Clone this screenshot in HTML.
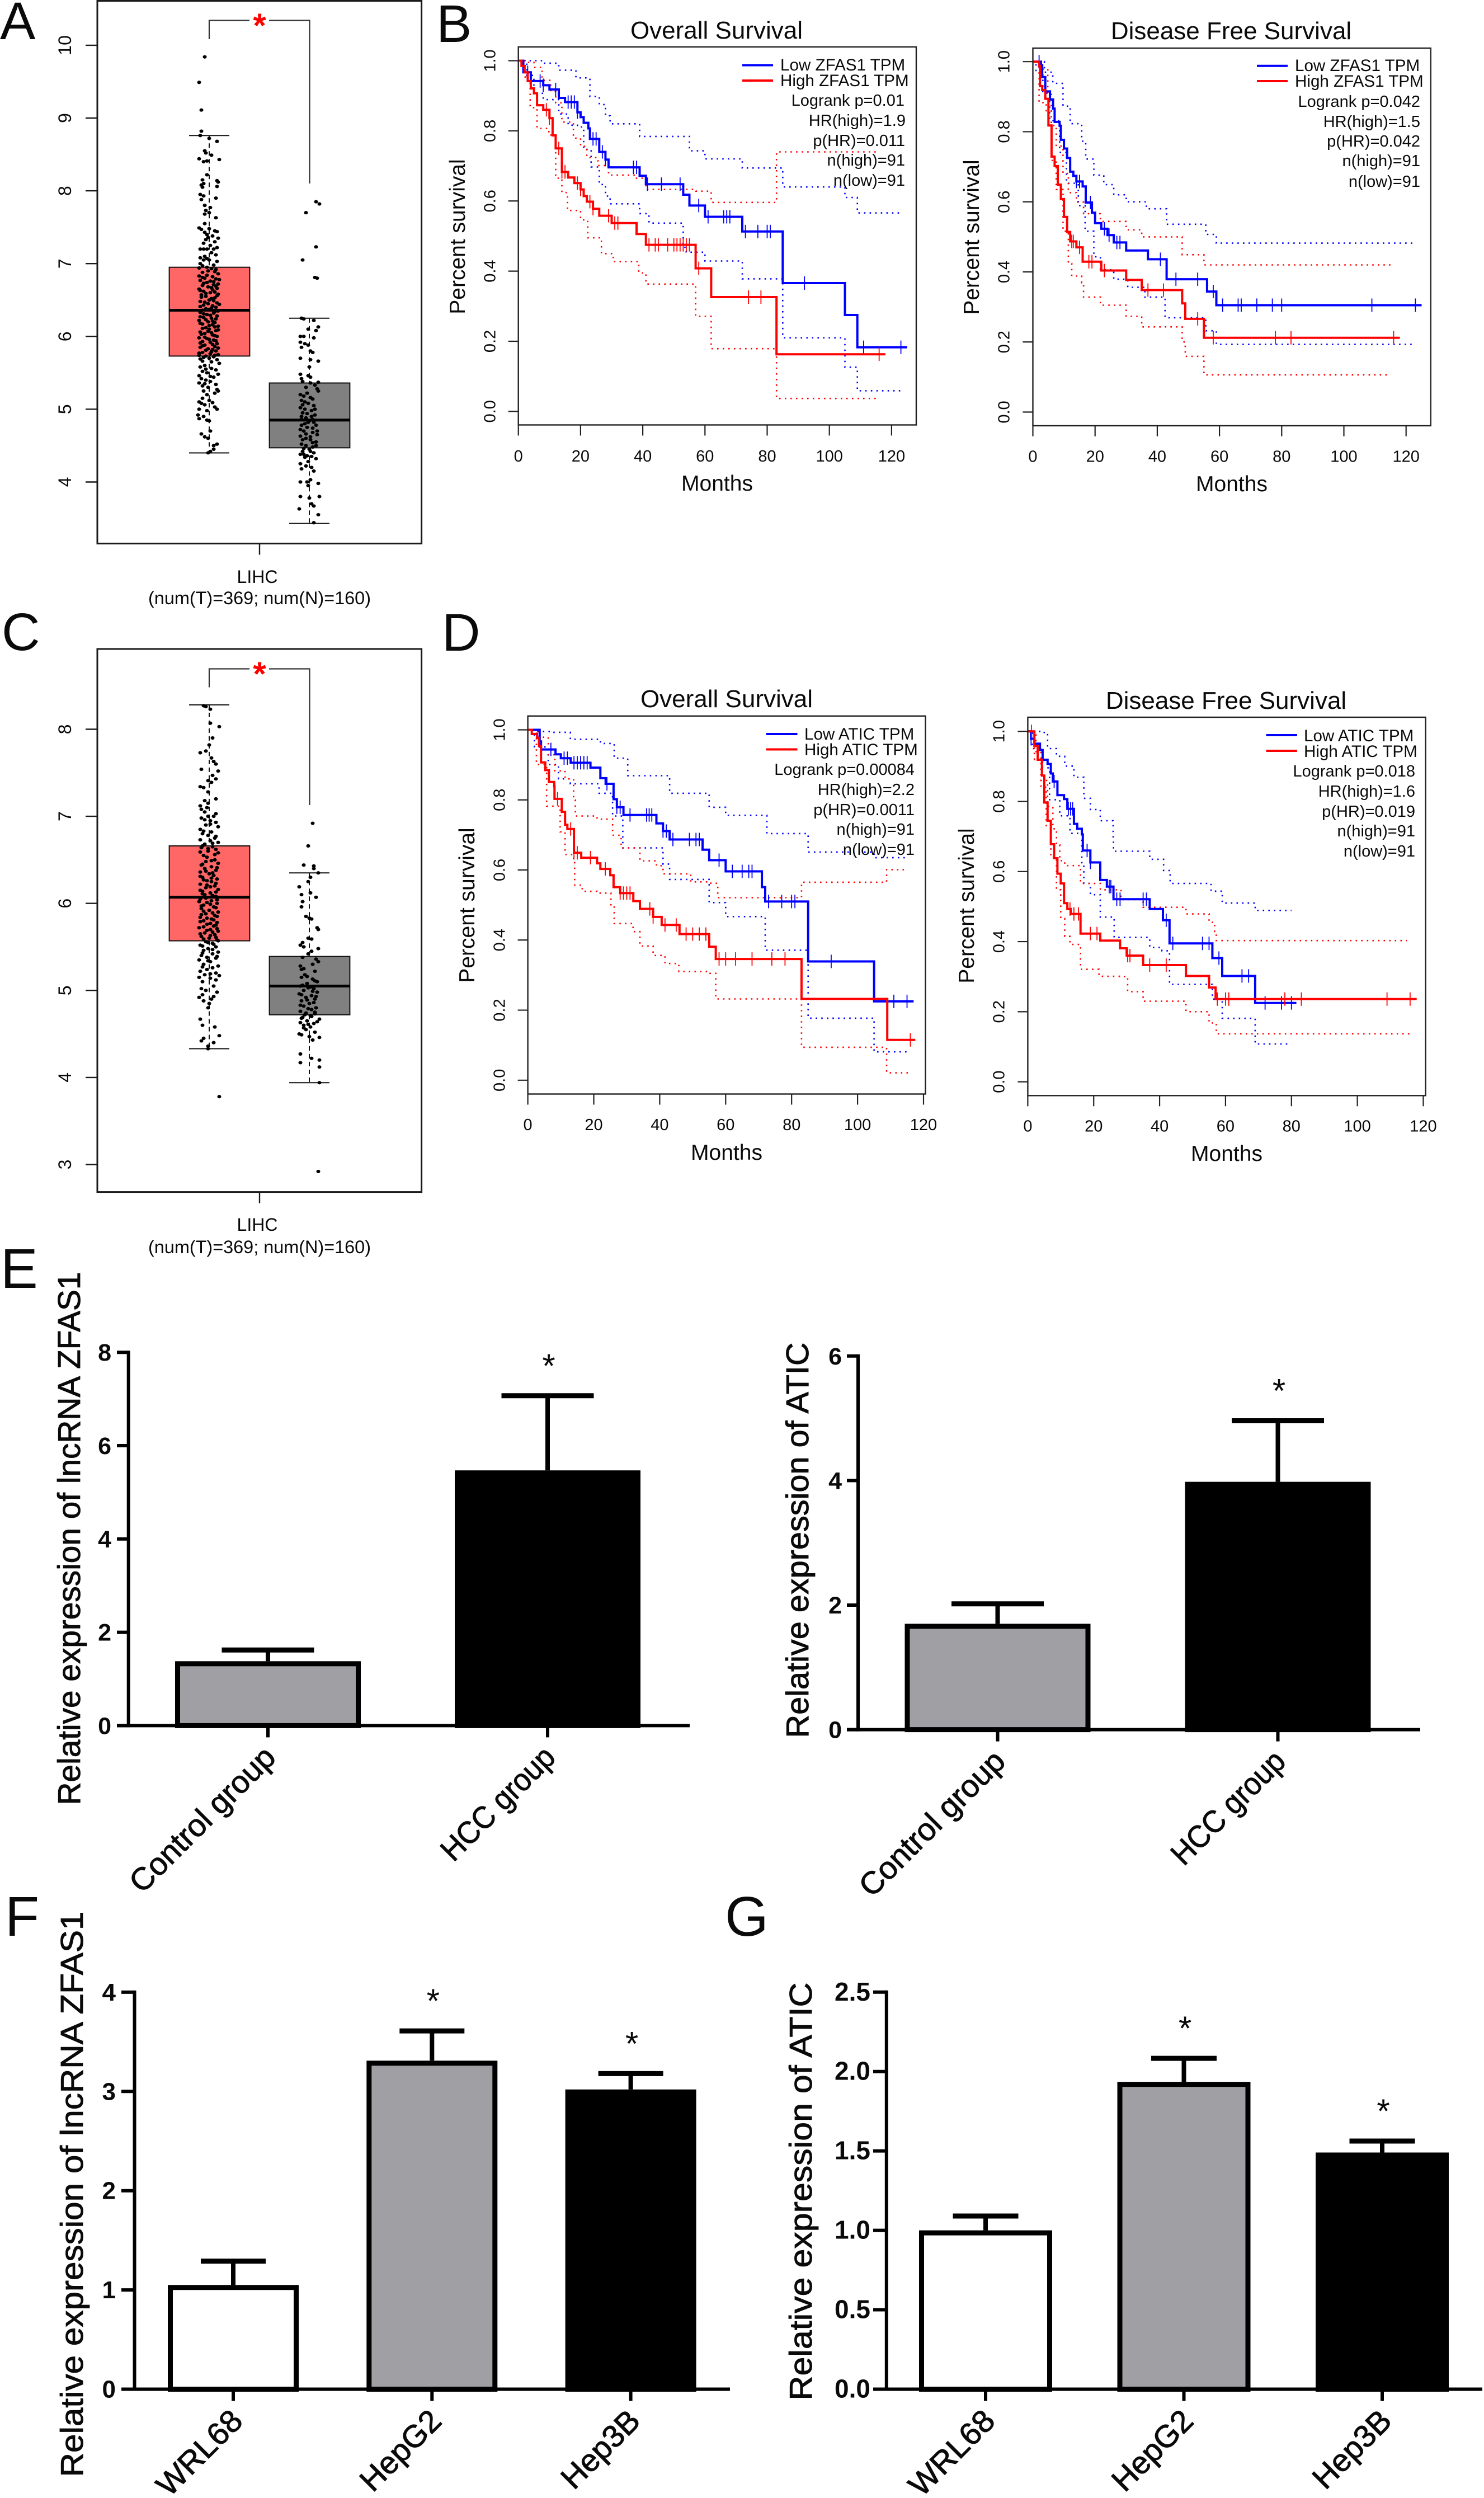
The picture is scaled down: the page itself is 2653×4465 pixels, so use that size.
<!DOCTYPE html>
<html lang="en">
<head>
<meta charset="utf-8">
<title>LIHC expression and survival figure</title>
<style>
html,body{margin:0;padding:0;background:#fff}
svg{display:block}
text{font-family:"Liberation Sans",sans-serif;fill:#0a0a0a}
.letter{font-size:95px}
.tall{font-size:100px}
.title{font-size:44px;text-anchor:middle}
.months{font-size:39px;text-anchor:middle}
.ylab{font-size:39px;text-anchor:middle}
.leg{font-size:29.6px}
.stat{font-size:29px;text-anchor:end}
.boxcap{font-size:32px;text-anchor:middle}
.bartitle{font-size:57px;text-anchor:middle;stroke:#0a0a0a;stroke-width:.9px}
.redstar{font-size:60px;font-weight:bold;text-anchor:middle;fill:#f00}
</style>
</head>
<body>
<svg id="figure" xmlns="http://www.w3.org/2000/svg" width="2653" height="4465" viewBox="0 0 2653 4465">
<rect width="2653" height="4465" fill="#fff"/>

<text class="letter" x="0" y="70">A</text>
<text class="letter" x="780" y="75">B</text>
<text class="letter" x="3" y="1162">C</text>
<text class="letter" x="790" y="1163">D</text>
<text class="letter tall" x="1" y="2302">E</text>
<text class="letter tall" x="9" y="3460">F</text>
<text class="letter tall" x="1296" y="3460">G</text>

<g id="boxA"></g>
<text class="redstar" x="464" y="66">*</text>
<text class="boxcap" x="460" y="1042">LIHC</text>
<text class="boxcap" x="464" y="1080" textLength="398" lengthAdjust="spacingAndGlyphs">(num(T)=369; num(N)=160)</text>

<g id="boxC"></g>
<text class="redstar" x="464" y="1225">*</text>
<text class="boxcap" x="460" y="2200">LIHC</text>
<text class="boxcap" x="464" y="2240" textLength="398" lengthAdjust="spacingAndGlyphs">(num(T)=369; num(N)=160)</text>

<g id="kmB1"></g>
<text class="title" x="1281" y="69">Overall Survival</text>
<text class="months" x="1282" y="877">Months</text>
<text class="ylab" transform="translate(831,423) rotate(-90)">Percent survival</text>
<text class="leg" x="1395" y="126">Low ZFAS1 TPM</text>
<text class="leg" x="1395" y="154">High ZFAS1 TPM</text>
<text class="stat" x="1617" y="189">Logrank p=0.01</text>
<text class="stat" x="1619" y="225">HR(high)=1.9</text>
<text class="stat" x="1618" y="261">p(HR)=0.011</text>
<text class="stat" x="1618" y="296">n(high)=91</text>
<text class="stat" x="1618" y="332">n(low)=91</text>

<g id="kmB2"></g>
<text class="title" x="2201" y="70">Disease Free Survival</text>
<text class="months" x="2202" y="878">Months</text>
<text class="ylab" transform="translate(1750,424) rotate(-90)">Percent survival</text>
<text class="leg" x="2315" y="127">Low ZFAS1 TPM</text>
<text class="leg" x="2315" y="155">High ZFAS1 TPM</text>
<text class="stat" x="2539" y="191">Logrank p=0.042</text>
<text class="stat" x="2539" y="227">HR(high)=1.5</text>
<text class="stat" x="2539" y="262">p(HR)=0.042</text>
<text class="stat" x="2539" y="297">n(high)=91</text>
<text class="stat" x="2539" y="334">n(low)=91</text>

<g id="kmD1"></g>
<text class="title" x="1299" y="1264">Overall Survival</text>
<text class="months" x="1299" y="2073">Months</text>
<text class="ylab" transform="translate(848,1618) rotate(-90)">Percent survival</text>
<text class="leg" x="1438" y="1322">Low ATIC TPM</text>
<text class="leg" x="1438" y="1350">High ATIC TPM</text>
<text class="stat" x="1635" y="1385">Logrank p=0.00084</text>
<text class="stat" x="1635" y="1421">HR(high)=2.2</text>
<text class="stat" x="1635" y="1457">p(HR)=0.0011</text>
<text class="stat" x="1635" y="1492">n(high)=91</text>
<text class="stat" x="1635" y="1528">n(low)=91</text>

<g id="kmD2"></g>
<text class="title" x="2192" y="1267">Disease Free Survival</text>
<text class="months" x="2193" y="2075">Months</text>
<text class="ylab" transform="translate(1741,1619) rotate(-90)">Percent survival</text>
<text class="leg" x="2331" y="1325">Low ATIC TPM</text>
<text class="leg" x="2331" y="1353">High ATIC TPM</text>
<text class="stat" x="2530" y="1388">Logrank p=0.018</text>
<text class="stat" x="2530" y="1424">HR(high)=1.6</text>
<text class="stat" x="2530" y="1460">p(HR)=0.019</text>
<text class="stat" x="2530" y="1495">n(high)=91</text>
<text class="stat" x="2530" y="1531">n(low)=91</text>

<g id="barE1"></g>
<text class="bartitle" transform="translate(143,2750) rotate(-90)" textLength="953" lengthAdjust="spacingAndGlyphs">Relative expression of lncRNA ZFAS1</text>
<g id="barE2"></g>
<text class="bartitle" transform="translate(1445,2753) rotate(-90)" textLength="707" lengthAdjust="spacingAndGlyphs">Relative expression of ATIC</text>
<g id="barF"></g>
<text class="bartitle" transform="translate(148,3922) rotate(-90)" textLength="1011" lengthAdjust="spacingAndGlyphs">Relative expression of lncRNA ZFAS1</text>
<g id="barG"></g>
<text class="bartitle" transform="translate(1451,3917) rotate(-90)" textLength="747" lengthAdjust="spacingAndGlyphs">Relative expression of ATIC</text>
</svg>

<script>
/* ---------- box plot data: [lower whisker, q1, median, q3, upper whisker] ---------- */
const boxTicksA=[4,5,6,7,8,9,10];
const boxTicksC=[3,4,5,6,7,8];
const statsTumorA=[4.40,5.73,6.36,6.95,8.76];
const statsNormalA=[3.43,4.47,4.85,5.36,6.25];
const statsTumorC=[4.33,5.57,6.07,6.66,8.28];
const statsNormalC=[3.94,4.72,5.05,5.39,6.35];
/* jittered samples: [expression, horizontal jitter in tenths of the strip half-width] */
const pointsTumorA=[[9.84,-4],[9.49,-9],[9.11,-7],[8.82,-7],[8.76,-8],[8.72,0],[8.68,7],[8.55,-4],[8.52,-3],[8.49,2],[8.44,-9],[8.43,9],[8.41,-2],[8.4,-5],[8.22,-2],[8.15,-6],[8.14,7],[8.12,8],[8.1,-5],[8.08,-7],[8.06,7],[8.05,-6],[7.95,-8],[7.93,-5],[7.9,6],[7.88,-7],[7.8,-4],[7.77,1],[7.73,-3],[7.7,0],[7.68,-4],[7.63,6],[7.55,-4],[7.49,-9],[7.48,0],[7.47,-7],[7.44,7],[7.43,-4],[7.4,-2],[7.38,3],[7.35,8],[7.33,-3],[7.3,5],[7.28,-5],[7.25,1],[7.2,-8],[7.2,-5],[7.2,-2],[7.2,4],[7.15,2],[7.12,6],[7.08,-8],[7.07,-2],[7.05,-5],[7.05,0],[7.03,7],[7,-8],[6.98,4],[6.95,-2],[6.93,2],[6.92,6],[6.9,-1],[6.88,-6],[6.86,8],[6.83,-9],[6.82,3],[6.8,-4],[6.79,6],[6.77,-8],[6.76,1],[6.74,-2],[6.72,8],[6.71,4],[6.7,-6],[6.68,-1],[6.66,7],[6.65,-9],[6.64,3],[6.62,-5],[6.6,1],[6.58,8],[6.57,-7],[6.55,-3],[6.53,5],[6.52,2],[6.48,-8],[6.46,7],[6.45,-1],[6.43,-5],[6.42,3],[6.4,6],[6.38,-3],[6.37,0],[6.35,8],[6.33,-8],[6.32,4],[6.3,-2],[6.28,7],[6.26,-5],[6.25,2],[6.22,-9],[6.2,-1],[6.19,5],[6.17,-6],[6.16,3],[6.14,8],[6.12,-3],[6.1,0],[6.08,6],[6.06,-8],[6.04,-4],[6.02,3],[6,7],[5.98,-9],[5.97,-2],[5.95,4],[5.93,-6],[5.92,1],[5.9,7],[5.88,-4],[5.86,5],[5.85,-8],[5.83,-1],[5.82,3],[5.8,6],[5.78,-6],[5.76,1],[5.75,8],[5.74,-9],[5.73,-3],[5.72,4],[5.7,0],[5.68,7],[5.66,-6],[5.63,9],[5.6,-4],[5.58,-8],[5.56,2],[5.54,6],[5.52,-6],[5.5,-2],[5.48,8],[5.46,-9],[5.44,4],[5.42,-7],[5.4,-3],[5.38,1],[5.36,-9],[5.34,6],[5.32,-6],[5.3,-1],[5.27,7],[5.25,-5],[5.25,8],[5.2,-2],[5.15,-6],[5.12,0],[5.1,-9],[5.09,3],[5.06,-4],[5.03,5],[5,-9],[5,7],[4.98,-2],[4.92,-10],[4.9,-5],[4.87,-9],[4.85,-2],[4.84,0],[4.7,1],[4.66,-7],[4.62,-4],[4.6,-1],[4.52,7],[4.5,4],[4.45,4],[4.42,1],[4.4,-1]];
const pointsTumorACore=[[7.45,5],[7.36,-1],[7.22,7],[7.1,-4],[6.97,-6],[6.94,-9],[6.89,5],[6.84,-2],[6.81,-6],[6.78,9],[6.75,4],[6.73,-5],[6.69,6],[6.67,2],[6.63,-8],[6.61,5],[6.59,-3],[6.56,7],[6.54,-7],[6.5,0],[6.49,4],[6.47,-4],[6.44,9],[6.41,-8],[6.39,2],[6.36,-6],[6.34,5],[6.31,-5],[6.29,1],[6.27,-8],[6.24,6],[6.23,-3],[6.21,3],[6.18,-8],[6.15,0],[6.13,5],[6.11,-6],[6.09,8],[6.07,-1],[6.05,2],[6.03,-7],[6.01,5],[5.99,-4],[5.96,0],[5.94,6],[5.91,-8],[5.89,3],[5.87,-6],[5.84,8],[5.81,-3],[5.79,2],[5.77,-9],[5.74,5],[5.71,-5],[5.69,-8],[5.65,2],[5.55,-3],[5.45,1],[5.35,-4],[5.22,5],[5.08,-7]];
const pointsNormalA=[[7.85,6],[7.82,9],[7.7,-3],[7.23,6],[7.05,-6],[6.81,5],[6.8,7],[6.25,-7],[6.24,-5],[6.22,4],[6.13,8],[6.1,-1],[6.08,6],[6,-8],[6,-5],[5.98,4],[5.92,-8],[5.9,-4],[5.88,-1],[5.85,-7],[5.8,1],[5.78,3],[5.7,-8],[5.68,1],[5.66,8],[5.58,0],[5.48,-8],[5.46,-1],[5.44,1],[5.42,-7],[5.38,-6],[5.36,1],[5.37,8],[5.33,5],[5.3,-3],[5.28,7],[5.25,8],[5.2,-8],[5.18,-5],[5.16,1],[5.12,-7],[5.1,-4],[5.08,-1],[5.05,4],[5.02,-8],[5,-4],[4.98,2],[4.95,-6],[4.92,5],[4.9,2],[4.88,-3],[4.86,-7],[4.84,0],[4.82,4],[4.8,-4],[4.78,6],[4.75,-2],[4.72,-8],[4.7,-5],[4.68,3],[4.65,7],[4.63,-8],[4.6,-3],[4.58,1],[4.55,6],[4.52,-7],[4.5,-3],[4.48,3],[4.45,0],[4.42,-6],[4.4,4],[4.38,-5],[4.36,-2],[4.35,2],[4.32,6],[4.28,-1],[4.25,-8],[4.22,-3],[4.2,2],[4.18,-7],[4.15,4],[4,-8],[4,-2],[4.03,1],[3.98,8],[3.95,-1],[3.8,-8],[3.8,9],[3.78,0],[3.7,2],[3.67,4],[3.63,-9],[3.55,8],[3.44,4]];
const pointsNormalACore=[[5.22,-2],[5.14,3],[5.06,-6],[5,5],[4.94,-2],[4.9,-7],[4.86,3],[4.82,-1],[4.78,-7],[4.74,3],[4.7,7],[4.66,-3],[4.62,1],[4.58,-6],[4.54,3],[4.5,6],[4.46,-5],[4.42,1],[4.38,-8],[4.34,-4]];
const pointsTumorC=[[8.27,-5],[8.26,-3],[8.23,1],[8.07,1],[8.03,9],[7.9,3],[7.82,0],[7.75,-3],[7.73,-8],[7.67,2],[7.63,4],[7.6,6],[7.54,-7],[7.52,8],[7.47,3],[7.43,6],[7.41,-1],[7.39,2],[7.34,-8],[7.33,-5],[7.28,-1],[7.2,6],[7.18,-4],[7.15,-1],[7.12,-8],[7.1,-2],[7.08,-7],[7.05,-4],[7.03,6],[7,-1],[6.98,-7],[6.96,-4],[6.95,1],[6.93,6],[6.9,-3],[6.88,8],[6.85,-8],[6.83,-5],[6.82,2],[6.78,-1],[6.75,5],[6.73,-8],[6.72,1],[6.7,8],[6.68,-4],[6.65,3],[6.64,-7],[6.62,6],[6.6,-1],[6.58,8],[6.55,-5],[6.5,5],[6.48,-3],[6.46,8],[6.44,-7],[6.42,2],[6.4,-4],[6.38,6],[6.36,-8],[6.34,0],[6.32,4],[6.3,-6],[6.28,7],[6.26,-2],[6.25,2],[6.22,-8],[6.2,5],[6.18,-3],[6.16,8],[6.14,-6],[6.12,1],[6.1,-4],[6.08,6],[6.05,-8],[6.03,2],[6.01,-2],[6,7],[5.98,-5],[5.96,4],[5.94,-7],[5.92,0],[5.9,8],[5.88,-3],[5.86,5],[5.84,-8],[5.82,2],[5.8,-5],[5.78,7],[5.76,-2],[5.74,4],[5.72,-9],[5.7,1],[5.68,8],[5.66,-4],[5.64,5],[5.62,-7],[5.6,0],[5.58,7],[5.56,-3],[5.54,3],[5.52,-8],[5.5,6],[5.48,-1],[5.46,-5],[5.44,8],[5.42,3],[5.4,-7],[5.38,-2],[5.37,6],[5.35,-9],[5.33,1],[5.3,-5],[5.28,8],[5.26,3],[5.24,-2],[5.22,-8],[5.2,6],[5.18,-4],[5.17,9],[5.15,-9],[5.14,1],[5.1,-6],[5.05,4],[5,-3],[4.98,7],[4.95,-6],[4.92,-9],[4.9,2],[4.88,-5],[4.85,0],[4.8,-1],[4.67,-8],[4.6,-6],[4.58,5],[4.48,9],[4.45,-5],[4.42,-7],[4.4,4],[4.36,-1],[4.33,-1],[3.78,9]];
const pointsTumorCCore=[[7,4],[6.91,1],[6.8,-6],[6.77,6],[6.69,3],[6.66,-6],[6.63,-1],[6.59,-8],[6.56,5],[6.53,-2],[6.49,2],[6.45,-6],[6.41,7],[6.37,-3],[6.35,3],[6.31,-8],[6.29,2],[6.27,-5],[6.23,6],[6.21,-2],[6.19,1],[6.15,-8],[6.13,6],[6.11,-6],[6.09,3],[6.06,-3],[6.04,7],[6.02,-9],[5.99,1],[5.97,-7],[5.95,6],[5.91,-5],[5.89,3],[5.87,-7],[5.85,7],[5.83,-2],[5.81,4],[5.79,-8],[5.77,1],[5.75,6],[5.73,-5],[5.71,7],[5.69,-2],[5.67,3],[5.65,-8],[5.63,1],[5.61,6],[5.59,-5],[5.57,8],[5.55,-1],[5.53,4],[5.51,-6],[5.47,3],[5.43,-6],[5.39,7],[5.34,-1],[5.27,-6],[5.19,1],[5.12,6],[5.02,-7],[4.93,4]];
const pointsNormalC=[[6.92,3],[6.66,-1],[6.44,-5],[6.43,4],[6.4,4],[6.35,8],[6.3,1],[6.25,-1],[6.19,-9],[6.1,-7],[6.12,1],[6.07,6],[6.02,-6],[5.96,-7],[5.85,-3],[5.83,0],[5.82,2],[5.72,7],[5.7,8],[5.6,-1],[5.59,2],[5.55,-6],[5.52,-8],[5.5,-5],[5.48,8],[5.45,2],[5.42,-1],[5.38,-6],[5.36,6],[5.33,8],[5.28,-8],[5.25,-5],[5.22,5],[5.18,-4],[5.15,-7],[5.13,3],[5.1,7],[5.08,-2],[5.05,-8],[5.04,1],[5.02,4],[5,-5],[4.98,7],[4.96,-9],[4.94,2],[4.92,-3],[4.9,5],[4.88,-7],[4.85,0],[4.82,-5],[4.8,6],[4.78,2],[4.76,-8],[4.74,-3],[4.73,5],[4.71,1],[4.69,-6],[4.67,9],[4.65,-2],[4.63,-8],[4.62,4],[4.6,-5],[4.58,1],[4.55,-3],[4.52,5],[4.5,-9],[4.49,-7],[4.47,0],[4.46,9],[4.43,3],[4.27,-8],[4.22,2],[4.2,9],[4.17,-8],[4.12,9],[3.94,9],[2.92,8]];
const pointsNormalCCore=[[5.3,3],[5.24,-7],[5.16,-2],[5.11,5],[5.06,-6],[5.03,-1],[4.99,3],[4.95,-7],[4.93,6],[4.89,-2],[4.86,4],[4.83,-8],[4.79,-1],[4.75,5],[4.72,-4],[4.7,2],[4.68,-7],[4.64,7],[4.61,-1],[4.57,-5]];

/* ---------- survival data: [month, survival after the drop] ---------- */
const survXTicks=[0,20,40,60,80,100,120];
const survYTicks=[0,0.2,0.4,0.6,0.8,1];
const survYLabels=["0.0","0.2","0.4","0.6","0.8","1.0"];

const zOsLow=[[0,1],[1.6,.967],[4,.942],[8,.93],[10,.918],[13,.894],[15,.882],[19,.853],[20,.839],[21,.823],[22.5,.807],[23,.777],[26,.74],[28,.718],[29,.696],[39,.672],[41,.648],[53,.618],[55,.587],[60,.555],[72,.513],[85,.366],[105,.275],[109,.183],[125,.183]];
const zOsLowUp=[[0,1],[3,1],[8,.993],[13,.973],[18.5,.951],[23,.898],[26,.875],[28,.843],[29.5,.82],[39,.784],[52,.784],[55,.743],[60,.72],[72,.694],[85,.64],[105,.61],[109,.566],[123,.566]];
const zOsLowDn=[[0,1],[2.7,.958],[5,.907],[8,.889],[13,.848],[16,.816],[19,.811],[21,.747],[23.4,.697],[26,.647],[28,.614],[29.5,.592],[39,.564],[42,.537],[53,.468],[54,.454],[60,.429],[72,.378],[85,.21],[105,.126],[109,.059],[123,.059]];
const zOsLowCens=[3,7,8,12,16,17,18,19,24,25,27,28,37,38,41.5,46,52,58,61,66,67,68,73,77,80,81,92,111,123];
const zOsHigh=[[0,1],[1,.985],[2,.967],[3,.942],[4,.921],[5,.907],[6,.873],[8,.86],[10,.836],[11,.787],[12,.75],[14,.683],[16,.667],[18,.651],[20,.633],[21,.614],[22,.598],[24,.578],[26,.558],[30,.537],[38,.506],[41,.475],[57,.408],[62,.326],[83,.163],[118,.163]];
const zOsHighUp=[[0,1],[3,.995],[5,.981],[7.6,.944],[10.4,.912],[12,.88],[14,.825],[17.7,.779],[20,.756],[22,.724],[25.6,.701],[29,.674],[37.6,.665],[41,.633],[57,.628],[62,.596],[83,.74],[115.5,.74]];
const zOsHighDn=[[0,1],[2.2,.944],[3.8,.866],[6,.807],[9.8,.788],[12,.665],[14,.624],[15.8,.573],[20,.546],[22.3,.495],[26.7,.45],[30.5,.427],[38.7,.395],[41,.363],[57,.271],[62,.179],[83,.037],[115.5,.037]];
const zOsHighCens=[9,10,13,14,15,19,20,23,24,29,31,32,42,44,45,48,50,51,52,53,54,55,58,74,78,116];

const zDfsLow=[[0,1],[2.6,.99],[3,.956],[4,.915],[5.5,.892],[6.5,.866],[7,.828],[8.6,.817],[9,.777],[10,.752],[11,.725],[12,.686],[13,.674],[14,.658],[16,.644],[17,.598],[19,.569],[20,.539],[22,.523],[24,.505],[26,.484],[30,.461],[37,.436],[43,.379],[56,.344],[59,.305],[125,.305]];
const zDfsLowUp=[[0,1],[2,1],[3.7,.97],[6.4,.938],[9.7,.873],[12,.823],[15.7,.773],[17,.722],[19.6,.676],[22.8,.649],[26,.62],[30,.6],[36.5,.58],[43,.536],[55.6,.507],[59,.482],[122.3,.482]];
const zDfsLowDn=[[0,1],[1,.97],[3.2,.91],[5.4,.832],[8.6,.741],[10.8,.653],[14.6,.589],[16.8,.516],[19.6,.443],[21.7,.406],[26,.379],[30.5,.356],[36,.328],[42.5,.269],[55.6,.232],[59,.193],[122.3,.193]];
const zDfsLowCens=[2,14,15,18.5,23,24.5,27,28,41,46,53,58,61,66,67,72,77,80,109,123];
const zDfsHigh=[[0,1],[2,.988],[2.3,.93],[3,.919],[4,.894],[5,.818],[6,.729],[7,.702],[8,.649],[9,.608],[10,.557],[11,.514],[12,.487],[14,.47],[16,.429],[22,.404],[30,.377],[35,.348],[48,.31],[49,.266],[55,.212],[118,.212]];
const zDfsHighUp=[[0,1],[2.3,.979],[4.8,.91],[5.9,.818],[7.5,.759],[9.7,.681],[11.4,.626],[14,.599],[16.3,.566],[21.7,.544],[30,.52],[35,.5],[48,.449],[55,.42],[115,.42]];
const zDfsHighDn=[[0,1],[2,.883],[4.3,.86],[5.9,.718],[7.5,.635],[9.7,.516],[11.4,.424],[12.5,.388],[15.7,.369],[16.3,.328],[21.7,.305],[30,.273],[35,.243],[48,.2],[49,.159],[55,.106],[114.6,.106]];
const zDfsHighCens=[12.5,13,15,18,19,23,37,42,53,58,78,83,116];

const aOsLow=[[0,1],[3.6,.967],[4,.944],[8.4,.93],[10,.919],[13,.906],[19,.892],[22,.862],[23.6,.846],[26,.802],[27,.779],[29,.757],[39,.733],[41,.711],[43,.687],[53,.658],[55,.628],[60,.596],[71,.551],[72,.51],[85,.339],[105,.225],[117,.225]];
const aOsLowUp=[[0,1],[3,.995],[7.2,.993],[12.9,.973],[22,.961],[26.2,.919],[30.3,.869],[43,.819],[55,.779],[60,.756],[72.5,.704],[85,.651],[105,.635],[115,.635]];
const aOsLowDn=[[0,1],[2,.951],[6.2,.901],[9.3,.86],[12.9,.846],[21.6,.819],[25.7,.754],[28.8,.663],[41,.617],[43,.573],[55,.507],[60,.467],[72,.371],[85,.177],[105,.081],[115,.081]];
const aOsLowCens=[7,11,12,14,15,16,17,18,24,27,28,31,36,36.8,37.6,41,42,44,49,51,52,58,62,65,67,68,73,77,80,81,92,111,115];
const aOsHigh=[[0,1],[1.2,.988],[2.8,.977],[3.4,.954],[4,.907],[5.3,.885],[6.4,.851],[8,.839],[8.1,.803],[10.3,.766],[11.3,.729],[12,.717],[14,.649],[16.2,.635],[21,.619],[22,.603],[25,.585],[26,.551],[28,.534],[32,.511],[34,.489],[38,.466],[40.6,.443],[46,.417],[55,.381],[57,.346],[83,.232],[109,.115],[117.5,.115]];
const aOsHighUp=[[0,1],[3,.979],[6.2,.929],[8.2,.883],[11.3,.86],[13.9,.8],[14.4,.754],[21,.745],[25.7,.699],[28.3,.663],[34,.626],[39,.612],[41,.589],[49.4,.566],[55.5,.562],[57.6,.521],[83,.565],[108.8,.601],[115,.601]];
const aOsHighDn=[[0,1],[2.6,.901],[5.7,.782],[9.8,.709],[11.3,.644],[13.9,.626],[14.2,.557],[16.5,.539],[21,.534],[25.2,.498],[26.2,.447],[31.9,.424],[34,.383],[38,.356],[41.6,.333],[45.8,.31],[54.5,.305],[57,.232],[83,.094],[108.8,.021],[115.4,.021]];
const aOsHighCens=[9,13,14,15,19,23.5,28,29,30,31,37,38,41.6,45,48,50,52,54,58,60,63,68,74,78,116];

const aDfsLow=[[0,1],[1,.979],[2,.965],[3.7,.947],[4.5,.919],[6,.907],[7,.88],[7.6,.857],[9,.818],[11,.807],[12,.779],[14,.736],[15,.722],[16.4,.706],[16.7,.66],[19,.626],[22,.576],[24,.557],[26,.521],[37,.493],[41,.461],[43,.395],[56,.353],[59,.302],[69,.225],[81.5,.225]];
const aDfsLowUp=[[0,1],[2,1],[4,.997],[6,.951],[8.7,.929],[11.2,.901],[14,.869],[17,.809],[19,.777],[22,.745],[25.9,.699],[26,.658],[37,.635],[41.2,.603],[43.2,.566],[55.6,.544],[59,.51],[69,.489],[80,.489]];
const aDfsLowDn=[[0,1],[1.4,.951],[4.5,.896],[6.6,.805],[9.7,.759],[12.8,.709],[16.4,.621],[17,.566],[19,.534],[22,.47],[26.2,.412],[37,.383],[40.7,.374],[43,.278],[56,.236],[59,.181],[69,.108],[80,.108]];
const aDfsLowCens=[1,8,12.3,13,13.6,18,19,24.7,25.2,27,28,35,36,42,44,53,55,58,65,67,72,77,80];
const aDfsHigh=[[0,1],[2,.959],[3,.919],[4.3,.874],[5,.797],[6,.745],[7,.678],[8,.638],[9,.594],[10,.566],[11,.51],[12,.493],[13,.479],[16,.423],[22,.403],[28,.381],[30,.36],[35,.333],[48,.302],[55,.269],[57,.236],[118,.236]];
const aDfsHighUp=[[0,1],[2.5,.942],[4,.86],[6,.786],[7.6,.722],[8.7,.676],[9.7,.631],[11.2,.617],[16,.566],[22,.548],[28.3,.52],[35,.498],[48,.479],[55,.455],[56.7,.429],[57.2,.403],[115,.403]];
const aDfsHighDn=[[0,1],[2,.919],[4,.841],[5.6,.731],[7,.64],[8.7,.548],[10,.466],[11.2,.415],[12.8,.392],[16,.321],[21.6,.301],[27.8,.3],[30.3,.257],[35,.23],[48,.2],[55,.168],[57.2,.137],[116,.137]];
const aDfsHighCens=[1.1,12.8,14,15.4,19,21,30.3,31,37,42,57.5,60,61,78,83,109,116];

/* ---------- bar chart data ---------- */
const tissueGroups=["Control group","HCC group"];
const tissueZfasMeans=[1.38,5.47];
const tissueZfasUpper=[1.62,7.07];
const tissueZfasTicks=[0,2,4,6,8];
const tissueAticMeans=[1.70,3.98];
const tissueAticUpper=[2.02,4.96];
const tissueAticTicks=[0,2,4,6];
const cellLines=["WRL68","HepG2","Hep3B"];
const cellZfasMeans=[1.05,3.31,3.02];
const cellZfasUpper=[1.29,3.61,3.18];
const cellZfasTicks=["0","1","2","3","4"];
const cellAticMeans=[1.0,1.935,1.49];
const cellAticUpper=[1.09,2.083,1.562];
const cellAticTicks=["0.0","0.5","1.0","1.5","2.0","2.5"];

/* ---------- helpers ---------- */
const NS='http://www.w3.org/2000/svg';
function make(tag,name,parent,attrs){
  const n=document.createElementNS(NS,tag);
  
  
  for(const k in attrs)n.setAttribute(k,attrs[k]);
  parent.appendChild(n);
  return n;
}
function label(name,parent,str,attrs){
  const n=make('text',name,parent,attrs);
  n.textContent=str;
  return n;
}
function line(name,parent,x1,y1,x2,y2,color,w,extra){
  return make('line',name,parent,Object.assign({x1:x1,y1:y1,x2:x2,y2:y2,stroke:color,'stroke-width':w},extra||{}));
}

/* ---------- box plots ---------- */
function drawBox(cfg){
  const g=document.getElementById(cfg.id);
  const y=v=>cfg.yZero+(v-cfg.tickRef)*-cfg.unit;
  make('rect',cfg.tag+'-frame',g,{x:174,y:cfg.top,width:579.6,height:cfg.bottom-cfg.top,fill:'none',stroke:'#1a1a1a','stroke-width':3});
  cfg.ticks.forEach(t=>{
    line(cfg.tag+'-y-tick-'+t,g,153,y(t),174,y(t),'#1a1a1a',2.4);
    label(cfg.tag+'-y-tick-label-'+t,g,String(t),{'font-size':32,'text-anchor':'middle',transform:'translate(127,'+y(t)+') rotate(-90)'});
  });
  line(cfg.tag+'-x-tick',g,464,cfg.bottom,464,cfg.bottom+20,'#1a1a1a',2.4);
  [[cfg.tumor,cfg.tumorPts,302.6,374,'#ff6666','tumor'],[cfg.normal,cfg.normalPts,481.6,553,'#808080','normal']].forEach(s=>{
    const st=s[0],cx=s[3],nm=cfg.tag+'-'+s[5];
    line(nm+'-whisker-high',g,cx,y(st[4]),cx,y(st[3]),'#111',2,{'stroke-dasharray':'8 6'});
    line(nm+'-whisker-low',g,cx,y(st[1]),cx,y(st[0]),'#111',2,{'stroke-dasharray':'8 6'});
    line(nm+'-cap-high',g,cx-36,y(st[4]),cx+36,y(st[4]),'#111',2);
    line(nm+'-cap-low',g,cx-36,y(st[0]),cx+36,y(st[0]),'#111',2);
    make('rect',nm+'-box',g,{x:s[2],y:y(st[3]),width:143.8,height:y(st[1])-y(st[3]),fill:s[4],stroke:'#111','stroke-width':2});
    line(nm+'-median',g,s[2],y(st[2]),s[2]+143.8,y(st[2]),'#000',5);
    s[1].forEach(p=>{
      make('ellipse',nm+'-point',g,{cx:cx+p[1]*2,cy:y(p[0]),rx:3.5,ry:3.1,fill:'#000'});
    });
  });
  make('path',cfg.tag+'-bracket-left',g,{d:'M374 '+cfg.brLeft+'V'+cfg.brTop+'H446',fill:'none',stroke:'#333','stroke-width':2.2});
  make('path',cfg.tag+'-bracket-right',g,{d:'M481 '+cfg.brTop+'H553.5V'+cfg.brRight,fill:'none',stroke:'#333','stroke-width':2.2});
}
drawBox({id:'boxA',tag:'boxplot-a',top:1.5,bottom:971.6,yZero:861.5,tickRef:4,unit:130.1,ticks:boxTicksA,tumor:statsTumorA,normal:statsNormalA,tumorPts:pointsTumorA.concat(pointsTumorACore),normalPts:pointsNormalA.concat(pointsNormalACore),brTop:36.5,brLeft:70,brRight:328});
drawBox({id:'boxC',tag:'boxplot-c',top:1160,bottom:2130.6,yZero:2081.5,tickRef:3,unit:155.6,ticks:boxTicksC,tumor:statsTumorC,normal:statsNormalC,tumorPts:pointsTumorC.concat(pointsTumorCCore),normalPts:pointsNormalC.concat(pointsNormalCCore),brTop:1195.5,brLeft:1228.5,brRight:1439});

/* ---------- survival plots ---------- */
function stepPath(curve,x,y){
  let d='M'+x(curve[0][0]).toFixed(1)+' '+y(curve[0][1]).toFixed(1);
  for(let i=1;i<curve.length;i++){
    d+='H'+x(curve[i][0]).toFixed(1)+'V'+y(curve[i][1]).toFixed(1);
  }
  return d;
}
function survivalAt(curve,m){
  let s=curve[0][1];
  for(const p of curve){ if(p[0]<=m) s=p[1]; }
  return s;
}
function drawKM(c){
  const g=document.getElementById(c.id);
  const x=m=>c.x0+m*c.perMonth;
  const y=s=>c.y0+(c.y1-c.y0)*s;
  [[c.lowUp,'#0000ff','low-upper-ci'],[c.lowDn,'#0000ff','low-lower-ci'],[c.highUp,'#ff0000','high-upper-ci'],[c.highDn,'#ff0000','high-lower-ci']].forEach(s=>{
    make('path',c.tag+'-'+s[2],g,{d:stepPath(s[0],x,y),fill:'none',stroke:s[1],'stroke-width':2.6,'stroke-dasharray':'2.6 7.4'});
  });
  [[c.low,c.lowCens,'#0000ff','low'],[c.high,c.highCens,'#ff0000','high']].forEach(s=>{
    make('path',c.tag+'-'+s[3]+'-curve',g,{d:stepPath(s[0],x,y),fill:'none',stroke:s[2],'stroke-width':4});
    s[1].forEach(m=>{
      line(c.tag+'-'+s[3]+'-censor-mark',g,x(m),y(survivalAt(s[0],m))-12,x(m),y(survivalAt(s[0],m))+12,s[2],1.8);
    });
  });
  make('rect',c.tag+'-frame',g,{x:c.x0,y:c.top,width:c.right-c.x0,height:c.bottom-c.top,fill:'none',stroke:'#222','stroke-width':2.4});
  survXTicks.forEach(t=>{
    line(c.tag+'-x-tick-'+t,g,x(t),c.bottom,x(t),c.bottom+19,'#222',2.2);
    label(c.tag+'-x-tick-label-'+t,g,String(t),{x:x(t),y:c.xLabelY,'font-size':29,'text-anchor':'middle'});
  });
  survYTicks.forEach((t,i)=>{
    line(c.tag+'-y-tick-'+i,g,c.x0-18,y(t),c.x0,y(t),'#222',2.2);
    label(c.tag+'-y-tick-label-'+i,g,survYLabels[i],{'font-size':29,'text-anchor':'middle',transform:'translate('+c.yLabelX+','+y(t)+') rotate(-90)'});
  });
  line(c.tag+'-legend-low-line',g,c.legX1,c.legY1,c.legX2,c.legY1,'#0000ff',4);
  line(c.tag+'-legend-high-line',g,c.legX1,c.legY2,c.legX2,c.legY2,'#ff0000',4);
}
drawKM({id:'kmB1',tag:'b-os',x0:926.7,perMonth:5.56,y1:108.5,y0:735.4,top:83.8,bottom:759.5,right:1638,xLabelY:825,yLabelX:885.5,legX1:1327,legX2:1382,legY1:116.5,legY2:144,low:zOsLow,lowUp:zOsLowUp,lowDn:zOsLowDn,lowCens:zOsLowCens,high:zOsHigh,highUp:zOsHighUp,highDn:zOsHighDn,highCens:zOsHighCens});
drawKM({id:'kmB2',tag:'b-dfs',x0:1846.5,perMonth:5.56,y1:110.2,y0:736.5,top:86,bottom:761,right:2557.8,xLabelY:825.5,yLabelX:1804.6,legX1:2247,legX2:2302,legY1:117.7,legY2:145,low:zDfsLow,lowUp:zDfsLowUp,lowDn:zDfsLowDn,lowCens:zDfsLowCens,high:zDfsHigh,highUp:zDfsHighUp,highDn:zDfsHighDn,highCens:zDfsHighCens});
drawKM({id:'kmD1',tag:'d-os',x0:943.6,perMonth:5.895,y1:1304.5,y0:1930.8,top:1279.8,bottom:1955.5,right:1654.5,xLabelY:2019.8,yLabelX:902.4,legX1:1369.7,legX2:1425.5,legY1:1312,legY2:1339.5,low:aOsLow,lowUp:aOsLowUp,lowDn:aOsLowDn,lowCens:aOsLowCens,high:aOsHigh,highUp:aOsHighUp,highDn:aOsHighDn,highCens:aOsHighCens});
drawKM({id:'kmD2',tag:'d-dfs',x0:1837.4,perMonth:5.892,y1:1307.3,y0:1933.6,top:1282,bottom:1958.3,right:2548.6,xLabelY:2022.6,yLabelX:1795.4,legX1:2263.5,legX2:2318.9,legY1:1314,legY2:1342,low:aDfsLow,lowUp:aDfsLowUp,lowDn:aDfsLowDn,lowCens:aDfsLowCens,high:aDfsHigh,highUp:aDfsHighUp,highDn:aDfsHighDn,highCens:aDfsHighCens});

/* ---------- bar charts ---------- */
function drawBars(c){
  const g=document.getElementById(c.id);
  const y=v=>c.y0-v*c.unit;
  const cx=i=>c.firstCenter+i*c.step;
  c.cats.forEach((cat,i)=>{
    const fill=c.fills[i],key=cat.toLowerCase().replace(/\s+/g,'-');
    line(c.tag+'-'+key+'-error-stem',g,cx(i),y(c.means[i]),cx(i),y(c.upper[i]),'#000',8);
    line(c.tag+'-'+key+'-error-cap',g,cx(i)-c.capW/2,y(c.upper[i]),cx(i)+c.capW/2,y(c.upper[i]),'#000',9);
    make('rect',c.tag+'-bar-'+key,g,{x:cx(i)-c.barW/2+4.5,y:y(c.means[i])+4.5,width:c.barW-9,height:c.y0-y(c.means[i])-4.5,fill:fill,stroke:'#000','stroke-width':9});
    line(c.tag+'-'+key+'-x-tick',g,cx(i),c.y0,cx(i),c.y0+21,'#000',6);
    label(c.tag+'-'+key+'-label',g,cat,{'font-size':c.catFont,'text-anchor':'end',stroke:'#0a0a0a','stroke-width':1,transform:'translate('+(cx(i)+c.catDx)+','+(c.y0+c.catDy)+') rotate(-45)',textLength:c.catLen[i],lengthAdjust:'spacingAndGlyphs'});
    if(c.stars[i]){
      label(c.tag+'-'+key+'-star',g,'*',{x:cx(i)+2,y:y(c.upper[i])-60+27,'font-size':60,'text-anchor':'middle'});
    }
  });
  line(c.tag+'-x-axis',g,c.tickLeft,c.y0,c.axisRight,c.y0,'#000',6);
  line(c.tag+'-y-axis',g,c.axisX,y(c.yMax)-3,c.axisX,c.y0+3,'#000',6);
  c.ticks.forEach(t=>{
    const v=Number(t);
    line(c.tag+'-y-tick-'+t,g,c.tickLeft,y(v),c.axisX,y(v),'#000',6);
    label(c.tag+'-y-tick-label-'+t,g,String(t),{x:c.labelRight,y:y(v)+15,'font-size':c.tickFont,'font-weight':'bold','text-anchor':'end'});
  });
}
drawBars({id:'barE1',tag:'e-left',cats:tissueGroups,means:tissueZfasMeans,upper:tissueZfasUpper,ticks:tissueZfasTicks,stars:[false,true],fills:['#a0a0a4','#000'],yMax:8,y0:3084.4,unit:83.4,axisX:229.7,tickLeft:209,axisRight:1233,firstCenter:479,step:500,barW:332,capW:165,labelRight:199,tickFont:43,catFont:56,catDx:17,catDy:60,catLen:[342,262]});
drawBars({id:'barE2',tag:'e-right',cats:tissueGroups,means:tissueAticMeans,upper:tissueAticUpper,ticks:tissueAticTicks,stars:[false,true],fills:['#a0a0a4','#000'],yMax:6,y0:3091.6,unit:111.3,axisX:1534,tickLeft:1514,axisRight:2539,firstCenter:1783.5,step:501,barW:332,capW:165,labelRight:1505,tickFont:43,catFont:56,catDx:17,catDy:60,catLen:[342,262]});
drawBars({id:'barF',tag:'f',cats:cellLines,means:cellZfasMeans,upper:cellZfasUpper,ticks:cellZfasTicks,stars:[false,true,true],fills:['#fff','#a0a0a4','#000'],yMax:4,y0:4270.5,unit:177.4,axisX:240.5,tickLeft:217,axisRight:1305,firstCenter:417,step:355.3,barW:234,capW:116,labelRight:207,tickFont:44,catFont:56,catDx:20,catDy:60,catLen:[190,178,172]});
drawBars({id:'barG',tag:'g',cats:cellLines,means:cellAticMeans,upper:cellAticUpper,ticks:cellAticTicks,stars:[false,true,true],fills:['#fff','#a0a0a4','#000'],yMax:2.5,y0:4270.5,unit:283.9,axisX:1584.8,tickLeft:1561,axisRight:2650,firstCenter:1762,step:354.5,barW:238,capW:117,labelRight:1556,tickFont:46,catFont:56,catDx:20,catDy:60,catLen:[190,178,172]});
</script>
</body>
</html>
